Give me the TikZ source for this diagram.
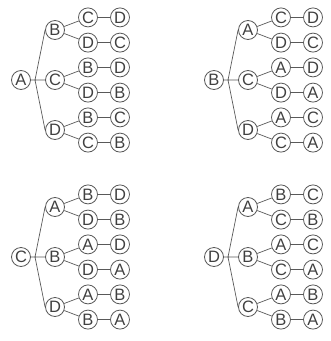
\documentclass[tikz,border=0pt]{standalone}
\usepackage{fontspec}
\setmainfont{Liberation Sans}
\usetikzlibrary{positioning}

\begin{document}
\begin{tikzpicture}[x=1pt, y=-1pt, on grid,
    letter/.style={circle, draw=black!65, line width=0.8pt, inner sep=0pt,
      minimum size=19pt, text=black!75, font=\fontsize{16.5}{16.5}\selectfont},
    branch/.style={draw=black!65, line width=0.7pt}]
  \useasboundingbox (0,0) rectangle (331,341);
  \foreach \r/\a/\b/\c/\px/\py in {A/B/C/D/21/80, B/A/C/D/214/80,
      C/A/B/D/21/257, D/A/B/C/214/257}{
    \node[letter] (\r) at (\px,\py) {\r}; % first letter
    \coordinate[right=14pt of \r] (\r s);
    % second letter
    \node[letter, above right=50pt and 34pt of \r] (\r\a) {\a};
    \node[letter, right=34pt of \r] (\r\b) {\b};
    \node[letter, below right=50pt and 34pt of \r] (\r\c) {\c};
    % third letter
    \node[letter, above right=12.6pt and 33pt of \r\a] (\r\a\b) {\b};
    \node[letter, below right=12.6pt and 33pt of \r\a] (\r\a\c) {\c};
    \node[letter, above right=12.6pt and 33pt of \r\b] (\r\b\a) {\a};
    \node[letter, below right=12.6pt and 33pt of \r\b] (\r\b\c) {\c};
    \node[letter, above right=12.6pt and 33pt of \r\c] (\r\c\a) {\a};
    \node[letter, below right=12.6pt and 33pt of \r\c] (\r\c\b) {\b};
    % last letter
    \node[letter, right=32pt of \r\a\b] (\r\a\b\c) {\c};
    \node[letter, right=32pt of \r\a\c] (\r\a\c\b) {\b};
    \node[letter, right=32pt of \r\b\a] (\r\b\a\c) {\c};
    \node[letter, right=32pt of \r\b\c] (\r\b\c\a) {\a};
    \node[letter, right=32pt of \r\c\a] (\r\c\a\b) {\b};
    \node[letter, right=32pt of \r\c\b] (\r\c\b\a) {\a};

    \draw[branch] (\r) -- (\r s) (\r s) -- (\r\a.west)
      (\r s) -- (\r\b) (\r s) -- (\r\c.west);
    \draw[branch] (\r\a) -- (\r\a\b) (\r\a) -- (\r\a\c)
      (\r\b) -- (\r\b\a) (\r\b) -- (\r\b\c)
      (\r\c) -- (\r\c\a) (\r\c) -- (\r\c\b);
    \draw[branch] (\r\a\b) -- (\r\a\b\c) (\r\a\c) -- (\r\a\c\b)
      (\r\b\a) -- (\r\b\a\c) (\r\b\c) -- (\r\b\c\a)
      (\r\c\a) -- (\r\c\a\b) (\r\c\b) -- (\r\c\b\a);
  }
\end{tikzpicture}
\end{document}
